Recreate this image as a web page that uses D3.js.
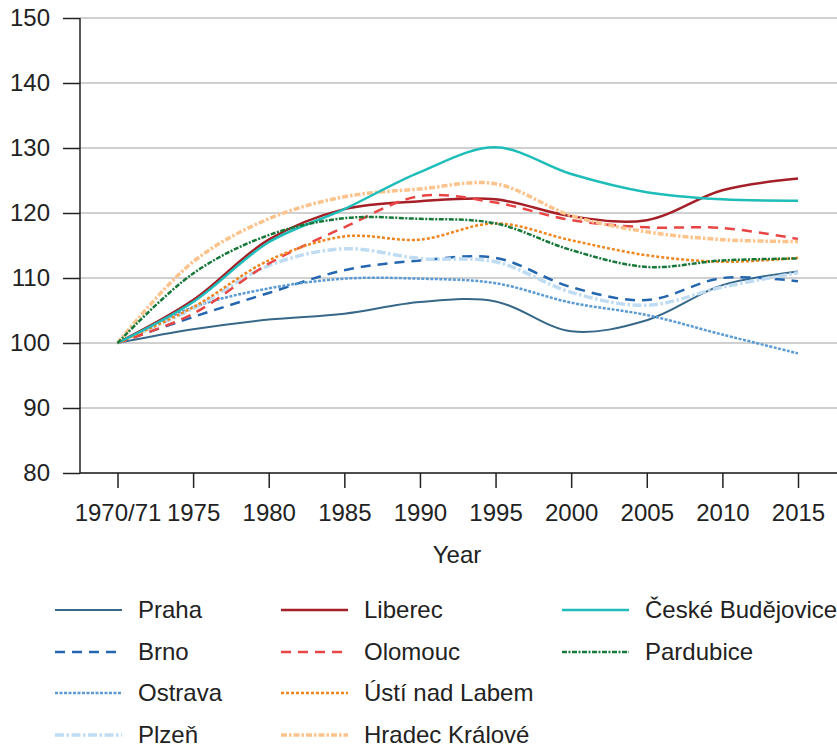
<!DOCTYPE html>
<html>
<head>
<meta charset="utf-8">
<script src="https://cdn.jsdelivr.net/npm/d3@7"></script>
<style>
  body { margin: 0; background: #fff; }
  svg { font-family: "Liberation Sans", Arial, sans-serif; }
  .axis text { font-size: 24px; fill: #222; }
</style>
</head>
<body>
<script>
// data (index, 1970/71 = 100)
var years = [1970, 1975, 1980, 1985, 1990, 1995, 2000, 2005, 2010, 2015];
var yearLabels = ["1970/71", "1975", "1980", "1985", "1990", "1995", "2000", "2005", "2010", "2015"];
var yTicks = [80, 90, 100, 110, 120, 130, 140, 150];

var cities = ["Praha", "Brno", "Ostrava", "Plzeň", "Liberec", "Olomouc",
              "Ústí nad Labem", "Hradec Králové", "České Budějovice", "Pardubice"];

var praha     = [100, 102.1, 103.6, 104.5, 106.3, 106.4, 101.8, 103.5, 108.9, 111.0];
var brno      = [100, 104.0, 107.7, 111.2, 112.7, 113.1, 108.6, 106.6, 110.0, 109.5];
var ostrava   = [100, 105.5, 108.4, 109.9, 109.9, 109.2, 106.2, 104.3, 101.3, 98.4];
var plzen     = [100, 105.3, 111.9, 114.5, 113.0, 112.5, 107.8, 105.8, 108.6, 110.8];
var liberec   = [100, 106.6, 115.9, 120.6, 121.8, 122.1, 119.5, 118.9, 123.5, 125.3];
var olomouc   = [100, 104.5, 112.2, 117.8, 122.6, 121.6, 118.9, 117.8, 117.7, 116.0];
var usti      = [100, 105.5, 112.7, 116.4, 115.9, 118.4, 115.8, 113.5, 112.5, 113.1];
var hradec    = [100, 112.5, 119.1, 122.5, 123.7, 124.5, 119.6, 117.1, 115.9, 115.6];
var budejovice= [100, 106.3, 115.5, 120.6, 126.3, 130.1, 126.0, 123.2, 122.1, 121.9];
var pardubice = [100, 110.7, 116.6, 119.2, 119.1, 118.4, 114.3, 111.7, 112.7, 113.0];

var values = [praha, brno, ostrava, plzen, liberec, olomouc, usti, hradec, budejovice, pardubice];

var colors = ["#37688a", "#2467b0", "#5b9bd5", "#bfdcf2", "#a41f27",
              "#ea4545", "#f0851f", "#fcc38c", "#1fbdb9", "#17783a"];
var dashes = ["", "10,7", "3,1.5", "9,2.5,2.5,2.5", "", "10,7", "3,2", "6,2,2.5,2", "", "5,1.5,2,1.5"];
var widths = [2, 2.5, 2.5, 3.5, 2.5, 2.5, 2.5, 3.5, 2.5, 2.5];

var w = 837, h = 747;

var svg = d3.select("body").append("svg")
  .attr("width", w)
  .attr("height", h);

var xScale = d3.scaleLinear().domain([1970, 2015]).range([117.5, 798]);
var yScale = d3.scaleLinear().domain([80, 150]).range([473, 18]);

// gridlines
svg.append("g")
  .selectAll("line")
  .data(yTicks)
  .enter()
  .append("line")
  .attr("x1", 80)
  .attr("x2", w)
  .attr("y1", function(d) { return yScale(d); })
  .attr("y2", function(d) { return yScale(d); })
  .attr("stroke", "#c0c0c0")
  .attr("stroke-width", 1.5);

// lines
var line = d3.line()
  .x(function(d, i) { return xScale(years[i]); })
  .y(function(d) { return yScale(d); })
  .curve(d3.curveCatmullRom.alpha(0.5));

svg.append("g")
  .selectAll("path")
  .data(values)
  .enter()
  .append("path")
  .attr("d", line)
  .attr("fill", "none")
  .attr("stroke", function(d, i) { return colors[i]; })
  .attr("stroke-width", function(d, i) { return widths[i]; })
  .attr("stroke-dasharray", function(d, i) { return dashes[i]; });

// axes
var xAxis = d3.axisBottom(xScale)
  .tickValues(years)
  .tickFormat(function(d, i) { return yearLabels[i]; })
  .tickSize(15)
  .tickPadding(16);

var yAxis = d3.axisLeft(yScale)
  .tickValues(yTicks)
  .tickSize(17)
  .tickPadding(13);

var gx = svg.append("g")
  .attr("class", "axis")
  .attr("transform", "translate(0,473)")
  .call(xAxis);
gx.select(".domain").remove();
gx.selectAll("line").attr("stroke", "#222").attr("stroke-width", 1.5);

var gy = svg.append("g")
  .attr("class", "axis")
  .attr("transform", "translate(80,0)")
  .call(yAxis);
gy.select(".domain").remove();
gy.selectAll("line").attr("stroke", "#222").attr("stroke-width", 1.5);

svg.append("line")
  .attr("x1", 80).attr("x2", w)
  .attr("y1", 473).attr("y2", 473)
  .attr("stroke", "#222").attr("stroke-width", 1.5);
svg.append("line")
  .attr("x1", 80).attr("x2", 80)
  .attr("y1", 18).attr("y2", 473)
  .attr("stroke", "#222").attr("stroke-width", 1.5);

svg.append("text")
  .attr("x", 457)
  .attr("y", 563)
  .attr("text-anchor", "middle")
  .style("font-size", "24px")
  .style("fill", "#222")
  .text("Year");

// legend, 3 columns x 4 rows
var colX = [55, 281, 562];
var rowY = [610, 652, 693, 735];

var legend = svg.append("g")
  .selectAll("g")
  .data(cities)
  .enter()
  .append("g")
  .attr("transform", function(d, i) {
    return "translate(" + colX[Math.floor(i / 4)] + "," + rowY[i % 4] + ")";
  });

legend.append("line")
  .attr("x1", 0).attr("x2", 67)
  .attr("y1", 0).attr("y2", 0)
  .attr("stroke", function(d, i) { return colors[i]; })
  .attr("stroke-width", function(d, i) { return widths[i]; })
  .attr("stroke-dasharray", function(d, i) { return dashes[i]; });

legend.append("text")
  .attr("x", 83)
  .attr("y", 0)
  .attr("dy", "0.35em")
  .style("font-size", "24px")
  .style("fill", "#222")
  .text(function(d) { return d; });
</script>
</body>
</html>
